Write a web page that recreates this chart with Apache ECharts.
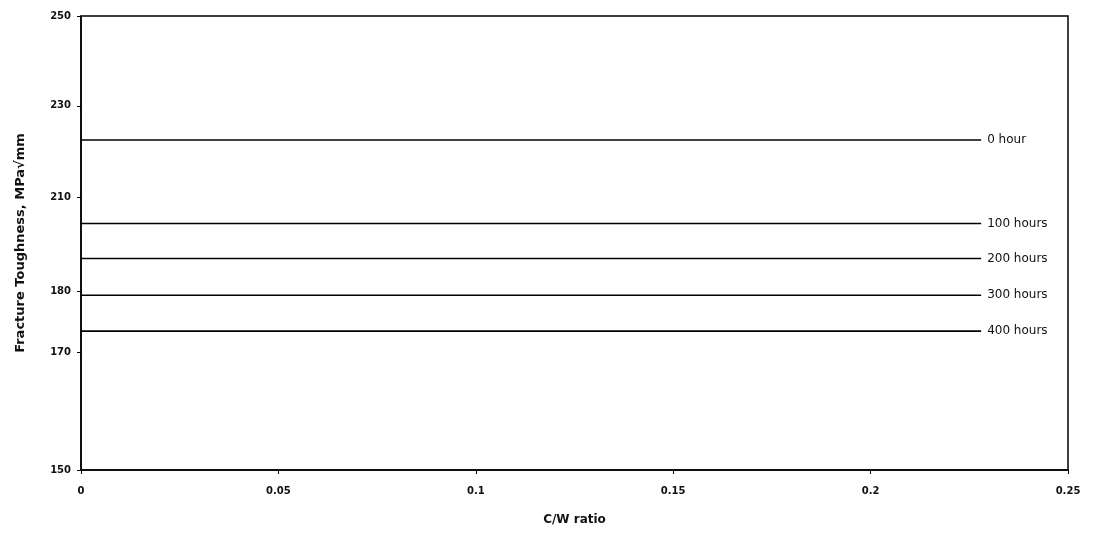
<!DOCTYPE html>
<html>
<head>
<meta charset="utf-8">
<script src="https://cdn.jsdelivr.net/npm/echarts@6/dist/echarts.min.js"></script>
<style>
html,body{margin:0;padding:0;background:#fff;}
#chart{width:1093px;height:533px;}
</style>
</head>
<body>
<div id="chart"></div>
<script>
// Data
const seriesNames = ['0 hour', '100 hours', '200 hours', '300 hours', '400 hours'];
const seriesValues = [222.7, 204.3, 196.6, 188.5, 180.6];
const xStart = 0;
const xEnd = 0.228;
const xTicks = [0, 0.05, 0.1, 0.15, 0.2, 0.25];
const xTickLabels = ['0', '0.05', '0.1', '0.15', '0.2', '0.25'];
// y tick labels as printed, at the positions where they appear on the scan
const yTickValues = [150, 176, 189.4, 210.1, 230.2, 250];
const yTickLabels = ['150', '170', '180', '210', '230', '250'];

const chart = echarts.init(document.getElementById('chart'), null, {renderer: 'canvas'});
const font = '"DejaVu Sans", "Liberation Sans", Arial, sans-serif';

const series = seriesNames.map((name, i) => ({
  name: name,
  type: 'line',
  data: [[xStart, seriesValues[i]], [xEnd, seriesValues[i]]],
  symbol: 'none',
  silent: true,
  lineStyle: {color: '#000', width: 1.6},
  endLabel: {
    show: true,
    formatter: '{a}',
    color: '#111',
    fontFamily: font,
    fontSize: 12,
    distance: 6
  }
}));

chart.setOption({
  backgroundColor: '#fff',
  animation: false,
  grid: {
    left: 81, right: 25, top: 16, bottom: 63,
    show: true, borderColor: '#000', borderWidth: 1.5
  },
  xAxis: {
    type: 'value',
    min: 0, max: 0.25, interval: 0.05,
    name: 'C/W ratio',
    nameLocation: 'middle',
    nameGap: 44,
    nameTextStyle: {color: '#111', fontFamily: font, fontSize: 12, fontWeight: 'bold'},
    axisLine: {show: true, lineStyle: {color: '#000', width: 1.5}},
    axisTick: {show: true, length: 4, inside: false, lineStyle: {color: '#000'}},
    axisLabel: {
      color: '#111', fontFamily: font, fontSize: 10, fontWeight: 'bold', margin: 16,
      formatter: function (v) {
        const i = xTicks.findIndex(t => Math.abs(t - v) < 1e-9);
        return i >= 0 ? xTickLabels[i] : '';
      }
    },
    splitLine: {show: false}
  },
  yAxis: {
    type: 'value',
    min: 150, max: 250,
    name: 'Fracture Toughness, MPa\u221Amm',
    nameLocation: 'middle',
    nameGap: 54,
    nameTextStyle: {color: '#111', fontFamily: font, fontSize: 13, fontWeight: 'bold'},
    axisLine: {show: true, lineStyle: {color: '#000', width: 1.5}},
    axisTick: {show: true, length: 4, customValues: yTickValues, lineStyle: {color: '#000'}},
    axisLabel: {
      color: '#111', fontFamily: font, fontSize: 10, fontWeight: 'bold', margin: 10,
      customValues: yTickValues,
      formatter: function (v) {
        let best = 0, d = Infinity;
        yTickValues.forEach((t, i) => { if (Math.abs(t - v) < d) { d = Math.abs(t - v); best = i; } });
        return yTickLabels[best];
      }
    },
    splitLine: {show: false}
  },
  series: series
});
</script>
</body>
</html>
